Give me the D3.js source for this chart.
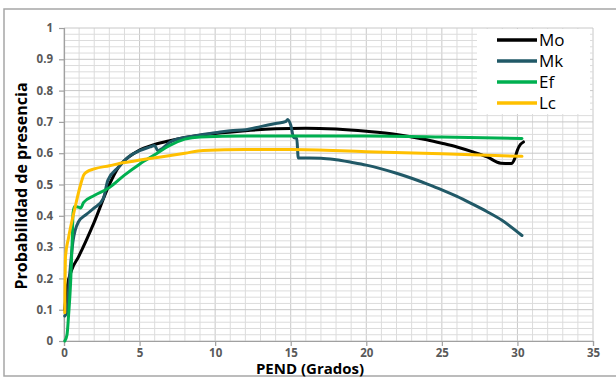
<!DOCTYPE html>
<html>
<head>
<meta charset="utf-8">
<script src="https://cdn.jsdelivr.net/npm/d3@7"></script>
<style>
  body { margin: 0; background: #fff; }
  text { font-family: "Open Sans", "Liberation Sans", sans-serif; }
</style>
</head>
<body>
<svg id="chart" width="616" height="379"></svg>
<script>
// series: [pend, probabilidad]
var mo = [[0.05,0.1],[0.2,0.17],[0.5,0.226],[0.95,0.268],[2,0.38],[3,0.5],[3.6,0.555],[4.2,0.585],[5,0.61],[6,0.628],[7,0.64],[8,0.65],[10,0.663],[12,0.672],[14,0.678],[16,0.68],[18,0.677],[20,0.67],[22,0.66],[24,0.643],[25,0.632],[26,0.62],[27,0.605],[28,0.588],[28.9,0.568],[29.6,0.567],[29.8,0.58],[30,0.61],[30.2,0.628],[30.4,0.636]];
var mk = [[0.05,0.08],[0.18,0.09],[0.4,0.226],[0.6,0.32],[0.95,0.38],[1.5,0.405],[2,0.425],[2.6,0.455],[2.9,0.513],[3.6,0.555],[4.2,0.585],[5,0.608],[5.7,0.62],[6,0.625],[6.2,0.608],[6.5,0.615],[7,0.635],[8,0.65],[9,0.658],[10,0.665],[11,0.672],[12,0.675],[13,0.685],[14,0.695],[14.7,0.702],[14.8,0.708],[15,0.69],[15.2,0.65],[15.4,0.647],[15.5,0.585],[17,0.584],[18,0.579],[19,0.571],[20,0.562],[21,0.55],[22,0.536],[23,0.52],[24,0.502],[25,0.483],[26,0.462],[27,0.438],[28,0.413],[29,0.385],[30.3,0.337]];
var ef = [[0.05,0.0],[0.2,0.02],[0.3,0.08],[0.45,0.2],[0.55,0.33],[0.6,0.41],[0.7,0.43],[1.0,0.427],[1.1,0.425],[1.3,0.443],[2,0.465],[3,0.49],[4,0.53],[5,0.565],[6,0.595],[7,0.625],[8,0.645],[9,0.652],[12,0.655],[20,0.655],[25,0.652],[30.3,0.647]];
var lc = [[0.05,0.09],[0.1,0.27],[0.3,0.33],[0.7,0.42],[1.1,0.5],[1.3,0.53],[1.5,0.54],[2,0.55],[3,0.56],[4,0.57],[5,0.578],[6.4,0.588],[8,0.6],[9.2,0.609],[12,0.612],[15,0.612],[20,0.605],[25,0.598],[30.3,0.59]];

var seriesNames = ["Mo", "Mk", "Ef", "Lc"];
var seriesColors = ["#000000", "#215967", "#00b050", "#ffc000"];
var seriesData = [mo, mk, ef, lc];

var xTicks = [0, 5, 10, 15, 20, 25, 30, 35];
var yTicks = [0, 0.1, 0.2, 0.3, 0.4, 0.5, 0.6, 0.7, 0.8, 0.9, 1];

var svg = d3.select("#chart");

// outer frame
svg.append("rect")
    .attr("x", 4).attr("y", 9)
    .attr("width", 620).attr("height", 367)
    .attr("fill", "none")
    .attr("stroke", "#a6a6a6")
    .attr("stroke-width", 1.5);

var x = d3.scaleLinear().domain([0, 35]).range([64, 593]);
var y = d3.scaleLinear().domain([0, 1]).range([341, 28]);

// minor + major grid
var grid = svg.append("g");
grid.selectAll("line.vx")
    .data(d3.range(0, 36, 1))
    .enter().append("line")
    .attr("x1", function(d) { return x(d) }).attr("x2", function(d) { return x(d) })
    .attr("y1", y(0)).attr("y2", y(1))
    .attr("stroke", function(d) { return d % 5 == 0 ? "#c8c8c8" : "#dcdcdc" })
    .attr("stroke-width", 1);
grid.selectAll("line.hy")
    .data(d3.range(0, 51, 1))
    .enter().append("line")
    .attr("y1", function(d) { return y(d / 50) }).attr("y2", function(d) { return y(d / 50) })
    .attr("x1", x(0)).attr("x2", x(35))
    .attr("stroke", function(d) { return d % 5 == 0 ? "#c8c8c8" : "#dcdcdc" })
    .attr("stroke-width", 1);

// axes
var xAxis = svg.append("g")
    .attr("transform", "translate(0," + y(0) + ")")
    .call(d3.axisBottom(x).tickValues(xTicks).tickSize(5).tickPadding(3).tickFormat(d3.format("d")));
var yAxis = svg.append("g")
    .attr("transform", "translate(" + x(0) + ",0)")
    .call(d3.axisLeft(y).tickValues(yTicks).tickSize(5).tickPadding(6).tickFormat(function(d) { return d == 0 || d == 1 ? d : d3.format(".1f")(d) }));
[xAxis, yAxis].forEach(function(a) {
    a.select(".domain").attr("stroke", "#a0a0a0").attr("stroke-width", 1.2);
    a.selectAll(".tick line").attr("stroke", "#a0a0a0").attr("stroke-width", 1.2);
    a.selectAll(".tick text")
        .attr("fill", "#595959")
        .style("font-size", "11.5px")
        .style("font-weight", "bold");
});

// legend background hides grid
svg.append("rect")
    .attr("x", 477).attr("y", 29)
    .attr("width", 113).attr("height", 85)
    .attr("fill", "#fff");

// lines
var line = d3.line()
    .x(function(d) { return x(d[0]) })
    .y(function(d) { return y(d[1]) })
    .curve(d3.curveMonotoneX);

svg.append("g").selectAll("path")
    .data(seriesData)
    .enter().append("path")
    .attr("d", line)
    .attr("fill", "none")
    .attr("stroke", function(d, i) { return seriesColors[i] })
    .attr("stroke-width", 3)
    .attr("stroke-linejoin", "round")
    .attr("stroke-linecap", "round");

// legend
var legend = svg.append("g").selectAll("g")
    .data(seriesNames)
    .enter().append("g")
    .attr("transform", function(d, i) { return "translate(497," + (40 + i * 21) + ")" });
legend.append("line")
    .attr("x1", 0).attr("x2", 40)
    .attr("stroke", function(d, i) { return seriesColors[i] })
    .attr("stroke-width", 3.5);
legend.append("text")
    .attr("x", 42).attr("y", 6)
    .text(function(d) { return d })
    .style("font-size", "17px")
    .attr("fill", "#000");

// axis titles
svg.append("text")
    .attr("x", 310).attr("y", 374)
    .attr("text-anchor", "middle")
    .style("font-size", "15px")
    .style("font-weight", "bold")
    .text("PEND (Grados)");
svg.append("text")
    .attr("transform", "translate(27,186) rotate(-90)")
    .attr("text-anchor", "middle")
    .style("font-size", "16px")
    .style("font-weight", "bold")
    .text("Probabilidad de presencia");
</script>
</body>
</html>
